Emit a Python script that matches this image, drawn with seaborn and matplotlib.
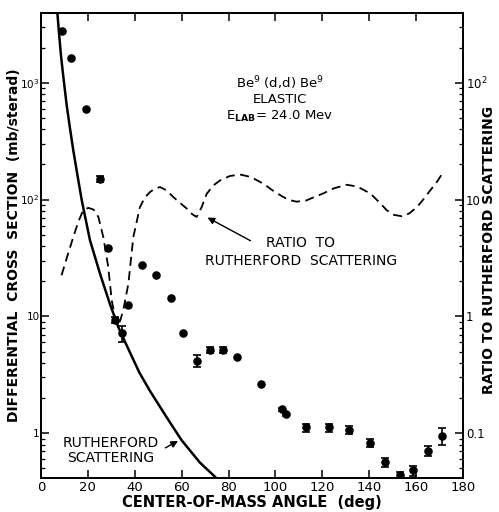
import numpy as np
import pandas as pd
import matplotlib
matplotlib.use("Agg")
import matplotlib.pyplot as plt
import seaborn as sns

# --- measured Be9(d,d)Be9 elastic cross section (mb/sterad) ---
angle = [9.2, 12.9, 19.3, 25.2, 28.4, 31.6, 34.4, 37.3, 43.2, 49.1, 55.3, 60.7, 66.7, 72.2,
         77.8, 83.5, 93.9, 102.7, 104.5, 112.9, 122.7, 131.4, 140.4, 146.8, 153.0, 158.8,
         165.1, 171.1]
sigma = [2790, 1630, 600, 150, 38.8, 9.3, 7.2, 12.4, 27.5, 22.6, 14.4, 7.2, 4.17, 5.2,
         5.2, 4.48, 2.65, 1.61, 1.46, 1.12, 1.12, 1.07, 0.826, 0.564, 0.44, 0.48,
         0.71, 0.955]
rel_err = [0, 0, 0, 0.06, 0, 0.06, 0.16, 0, 0, 0, 0, 0, 0.11, 0.06,
           0.06, 0, 0, 0.03, 0.03, 0.08, 0.08, 0.08, 0.08, 0.08, 0.06, 0.10,
           0.10, 0.17]

# --- Rutherford curve (solid) ---
ruth_angle = [6.8, 7.5, 8.5, 9.5, 11, 12.3, 13.8, 15.5, 17.4, 20.9, 25.2, 29.4, 33, 37.2,
              42, 46.5, 53.6, 60, 67.8, 75]
ruth_sigma = [4500, 3000, 1750, 1150, 640, 420, 264, 165, 99, 45, 23.2, 12.8, 8.1, 5.3,
              3.3, 2.3, 1.37, 0.87, 0.56, 0.41]

# --- ratio to Rutherford (dashed, right axis) ---
ratio_angle = [8.8, 11.3, 13.8, 16, 18, 20.2, 22.5, 24.5, 26.6, 28.7, 30.2, 31.5, 32.6,
               33.8, 35.1, 37.3, 39.4, 42.2, 44.3, 46.5, 48.5, 50.8, 53.5, 56.5, 59.5,
               62.1, 64.5, 66.4, 68.5, 70.7, 73.5, 76.4, 80.5, 84.9, 89.5, 94.8, 99,
               103.4, 106, 109, 113, 116.5, 120.4, 125, 130.4, 135, 140.4, 144, 147.5,
               150.5, 153.9, 157, 160.3, 163, 166, 169, 171.6]
ratio = [2.25, 3.3, 4.78, 6.5, 8.1, 8.5, 8.2, 7.1, 4.78, 2.65, 1.37, 1.0, 0.84,
         0.92, 1.13, 1.91, 4.78, 8.6, 10.4, 11.6, 12.4, 12.8, 12.0, 10.5, 9.3,
         8.4, 7.5, 7.1, 8.6, 11.2, 13.2, 14.6, 15.9, 16.4, 15.6, 13.7, 11.9,
         10.5, 9.9, 9.6, 9.8, 10.5, 11.3, 12.5, 13.4, 12.9, 11.3, 9.6, 8.1,
         7.4, 7.2, 7.6, 8.6, 10, 12, 14.3, 17.3]

left_ticks = [1, 10, 100, 1000]
left_labels = ["1", "10", "$10^2$", "$10^3$"]
right_ticks = [0.1, 1, 10, 100]
right_labels = ["0.1", "1", "10", "$10^2$"]

df = pd.DataFrame({"angle": angle, "sigma": sigma, "err": rel_err})
df["yerr"] = df["sigma"] * df["err"]

sns.set_style("ticks", rc={"text.color": "black", "axes.labelcolor": "black",
                           "xtick.color": "black", "ytick.color": "black",
                           "axes.edgecolor": "black"})
plt.rcParams["font.family"] = ["DejaVu Sans"]
plt.rcParams["mathtext.fontset"] = "dejavusans"

fig = plt.figure(figsize=(4.99, 5.12), dpi=100)
ax = fig.add_axes([0.082, 0.066, 0.846, 0.909])
ax2 = ax.twinx()

# data + error bars
eb = df[df["err"] > 0]
ax.errorbar(eb["angle"], eb["sigma"], yerr=eb["yerr"], fmt="none", ecolor="black",
            elinewidth=1.2, capsize=3, capthick=1.2, zorder=3)
sns.scatterplot(data=df, x="angle", y="sigma", color="black", s=38, edgecolor="black",
                linewidth=0, ax=ax, zorder=4)

sns.lineplot(x=ruth_angle, y=ruth_sigma, color="black", linewidth=1.8, ax=ax, sort=False)
sns.lineplot(x=ratio_angle, y=ratio, color="black", linewidth=1.3, linestyle=(0, (5, 3)),
             ax=ax2, sort=False)

ax.set_yscale("log")
ax2.set_yscale("log")
ax.set_xlim(0, 180)
ax.set_ylim(0.412, 3972)
ax2.set_ylim(0.0412, 397.2)

ax.set_xticks(range(0, 181, 20))
ax.set_yticks(left_ticks)
ax.set_yticklabels(left_labels)
ax2.set_yticks(right_ticks)
ax2.set_yticklabels(right_labels)

for a in (ax, ax2):
    for sp in a.spines.values():
        sp.set_linewidth(1.3)
        sp.set_color("black")
ax.tick_params(which="major", direction="in", length=6, width=1.1, top=True, right=False,
               labelsize=9.5, pad=2)
ax.tick_params(which="minor", direction="in", length=3, width=0.9, top=False, right=False)
ax.tick_params(axis="y", which="major", pad=1, labelsize=7.5)
ax2.tick_params(which="major", direction="in", length=6, width=1.1, labelsize=8.5, pad=2)
ax2.tick_params(which="minor", direction="in", length=3, width=0.9)

ax.set_xlabel("CENTER-OF-MASS ANGLE  (deg)", fontsize=10.5, fontweight="bold")
ax.xaxis.set_label_coords(0.5, -0.037)
ax.set_ylabel("DIFFERENTIAL  CROSS  SECTION  (mb/sterad)", fontsize=10, fontweight="bold")
ax.yaxis.set_label_coords(-0.047, 0.5)
ax2.set_ylabel("RATIO TO RUTHERFORD SCATTERING", fontsize=10, fontweight="bold")
ax2.yaxis.set_label_coords(1.045, 0.49)

# annotations
ax.text(0.566, 0.849, "Be$^9$ (d,d) Be$^9$", transform=ax.transAxes, ha="center",
        va="center", fontsize=9.5)
ax.text(0.566, 0.813, "ELASTIC", transform=ax.transAxes, ha="center", va="center",
        fontsize=9.5)
ax.text(0.566, 0.778, r"E$_{\mathbf{LAB}}$= 24.0 Mev", transform=ax.transAxes,
        ha="center", va="center", fontsize=9.5)

ax.text(0.616, 0.486, "RATIO  TO\nRUTHERFORD  SCATTERING", transform=ax.transAxes,
        ha="center", va="center", fontsize=10, linespacing=1.35)
ax2.annotate("", xy=(70, 7.2), xytext=(90.4, 4.33),
             arrowprops=dict(arrowstyle="-|>", color="black", lw=1, mutation_scale=10))

ax.text(0.166, 0.060, "RUTHERFORD\nSCATTERING", transform=ax.transAxes, ha="center",
        va="center", fontsize=10, linespacing=1.1)
ax.annotate("", xy=(59.5, 0.88), xytext=(52, 0.73),
            arrowprops=dict(arrowstyle="-|>", color="black", lw=1, mutation_scale=10))

fig.savefig("out.png", dpi=100)
